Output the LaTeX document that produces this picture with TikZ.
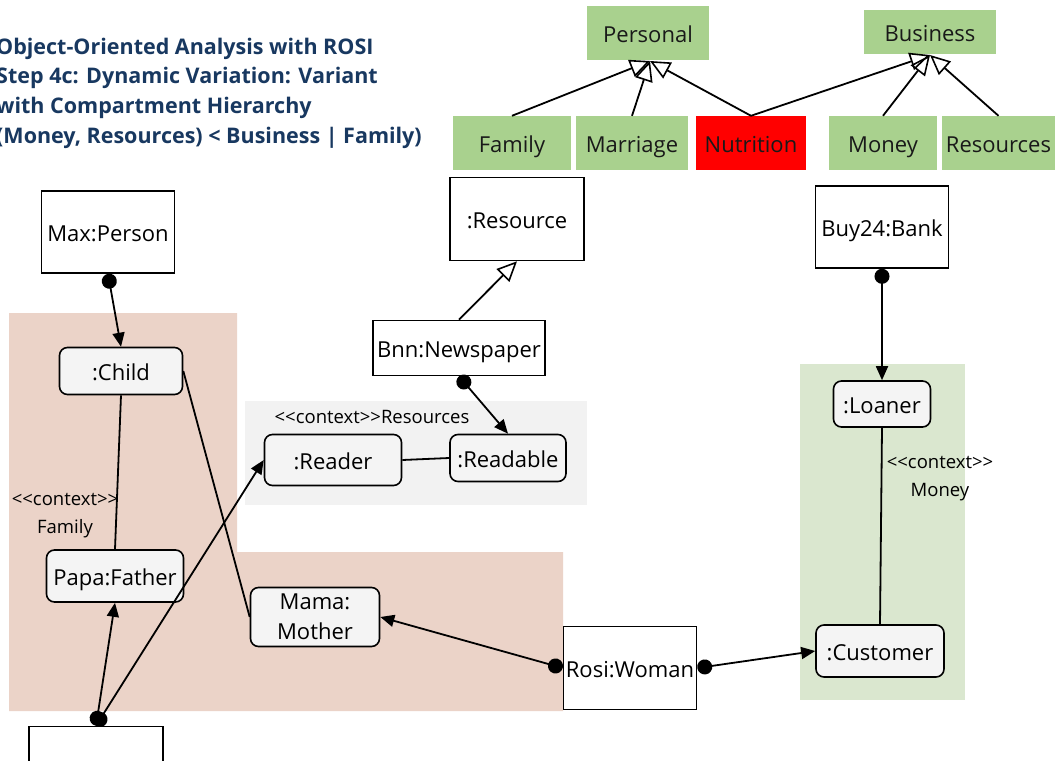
\documentclass[tikz,border=0pt]{standalone}
\usepackage{fontspec}
\setmainfont{Open Sans}
\usetikzlibrary{arrows.meta}

\definecolor{titleblue}{RGB}{24,56,96}
\definecolor{ctxgreen}{HTML}{A9D18E}
\definecolor{ctxred}{RGB}{255,0,0}
\definecolor{rolefill}{RGB}{244,244,244}
\definecolor{famfill}{RGB}{235,211,200}
\definecolor{resfill}{RGB}{242,242,242}
\definecolor{monfill}{RGB}{218,231,207}

% stereotype tag, with kerns so the angle brackets stay separate characters
\newcommand\ctxtag{<\kern0pt<context>\kern0pt>}

\tikzset{
  bigfont/.style={font=\fontsize{22}{30}\selectfont},
  smallfont/.style={font=\fontsize{18.5}{28}\selectfont},
  lowtext/.style={text height=19.7pt, text depth=0pt},
  ctxbox/.style={bigfont, lowtext, fill=ctxgreen, inner sep=0pt, text=black!90},
  objbox/.style={bigfont, lowtext, draw, line width=1.6pt, fill=white, inner sep=0pt},
  rolebox/.style={bigfont, draw, line width=1.6pt, fill=rolefill, rounded corners=8pt, inner sep=0pt, align=center},
  conn/.style={line width=1.8pt},
  dotarrow/.style={conn, {Circle[length=15pt]}-{Triangle[length=14pt,width=12pt]}},
  inherit/.style={conn, -{Triangle[open,length=20pt,width=18pt,line width=1.6pt]}},
}

\begin{document}
\begin{tikzpicture}[x=1pt,y=-1pt]
\useasboundingbox (0,0) rectangle (1057,760);

% compartment areas
\fill[famfill] (9,313) -- (237,313) -- (237,552) -- (563,552) -- (563,711) -- (9,711) -- cycle;
\fill[resfill] (245,401) rectangle (587,505);
\fill[monfill] (800,364) rectangle (965,700);

% title
\begin{scope}[every node/.style={anchor=base west, inner sep=0pt, text=titleblue, font=\fontsize{21.5}{29}\bfseries\selectfont}]
\node (title1) at (-4,55) {Object-Oriented Analysis with ROSI};
\node (title2) at (-4,84) {Step 4c: Dynamic Variation: Variant};
\node (title3) at (-4,113) {with Compartment Hierarchy};
\node (title4) at (-4,143) {(Money, Resources) < Business | Family)};
\end{scope}

% compartment type hierarchy
\node[ctxbox, minimum width=122pt, minimum height=54pt] (personal) at (648,33) {Personal};
\node[ctxbox, minimum width=132pt, minimum height=44pt] (business) at (930,32) {Business};
\node[ctxbox, minimum width=118pt, minimum height=54pt] (family) at (512,143) {Family};
\node[ctxbox, minimum width=112pt, minimum height=54pt] (marriage) at (632,143) {Marriage};
\node[ctxbox, fill=ctxred, minimum width=110pt, minimum height=54pt] (nutrition) at (751,143) {Nutrition};
\node[ctxbox, minimum width=108pt, minimum height=54pt] (money) at (883,143) {Money};
\node[ctxbox, minimum width=113pt, minimum height=54pt] (resources) at (998.5,143) {Resources};

\coordinate (ptip) at (650,61);
\coordinate (btip) at (930,55);
\draw[inherit] (family.north) -- (ptip);
\draw[inherit] (marriage.north) -- (ptip);
\draw[inherit] (nutrition.north) -- (ptip);
\draw[inherit] (nutrition.north) -- (btip);
\draw[inherit] (money.north) -- (btip);
\draw[inherit] (resources.north) -- (btip);

% objects
\node[objbox, minimum width=133pt, minimum height=82pt] (max) at (108,232) {Max:Person};
\node[objbox, minimum width=134pt, minimum height=83pt] (resource) at (517,219) {:Resource};
\node[objbox, minimum width=172pt, minimum height=55pt] (bnn) at (459,348) {Bnn:Newspaper};
\node[objbox, minimum width=133pt, minimum height=82pt] (bank) at (882,227) {Buy24:Bank};
\node[objbox, minimum width=133pt, minimum height=83pt] (rosi) at (630,668) {Rosi:Woman};
\node[objbox, minimum width=134pt, minimum height=83pt] (papa) at (96,768) {};

% roles
\node[rolebox, lowtext, minimum width=123pt, minimum height=47pt] (child) at (121,371) {:Child};
\node[rolebox, lowtext, minimum width=137pt, minimum height=52pt] (father) at (115,576) {Papa:Father};
\node[rolebox, minimum width=129pt, minimum height=59pt] (mother) at (315,617) {Mama:\\Mother};
\node[rolebox, lowtext, minimum width=137pt, minimum height=51pt] (reader) at (333,460) {:Reader};
\node[rolebox, lowtext, minimum width=116pt, minimum height=47pt] (readable) at (508,458) {:Readable};
\node[rolebox, lowtext, minimum width=97pt, minimum height=46pt] (loaner) at (882,404) {:Loaner};
\node[rolebox, lowtext, minimum width=128pt, minimum height=52pt] (customer) at (880,651) {:Customer};

% compartment labels
\node[smallfont, align=center] (famlabel) at (65,516) {\ctxtag\\Family};
\node[smallfont] (reslabel) at (372,417) {\ctxtag Resources};
\node[smallfont, align=center] (monlabel) at (940,479) {\ctxtag\\Money};

% links
\draw[dotarrow] (max.south) -- (child.north);
\draw[conn] (child.south) -- (father.north);
\draw[conn] (child.east) -- (mother.west);
\draw[dotarrow] (papa.north) -- (father.south);
\draw[dotarrow] (papa.north) -- (reader.west);
\draw[inherit] (bnn.north) -- (resource.south);
\draw[dotarrow] (bnn.south) -- (readable.north);
\draw[conn] (reader.east) -- (readable.west);
\draw[dotarrow] (bank.south) -- (loaner.north);
\draw[conn] (loaner.south) -- (customer.north);
\draw[dotarrow] (rosi.west) -- (mother.east);
\draw[dotarrow] (rosi.east) -- (customer.west);
\end{tikzpicture}
\end{document}
